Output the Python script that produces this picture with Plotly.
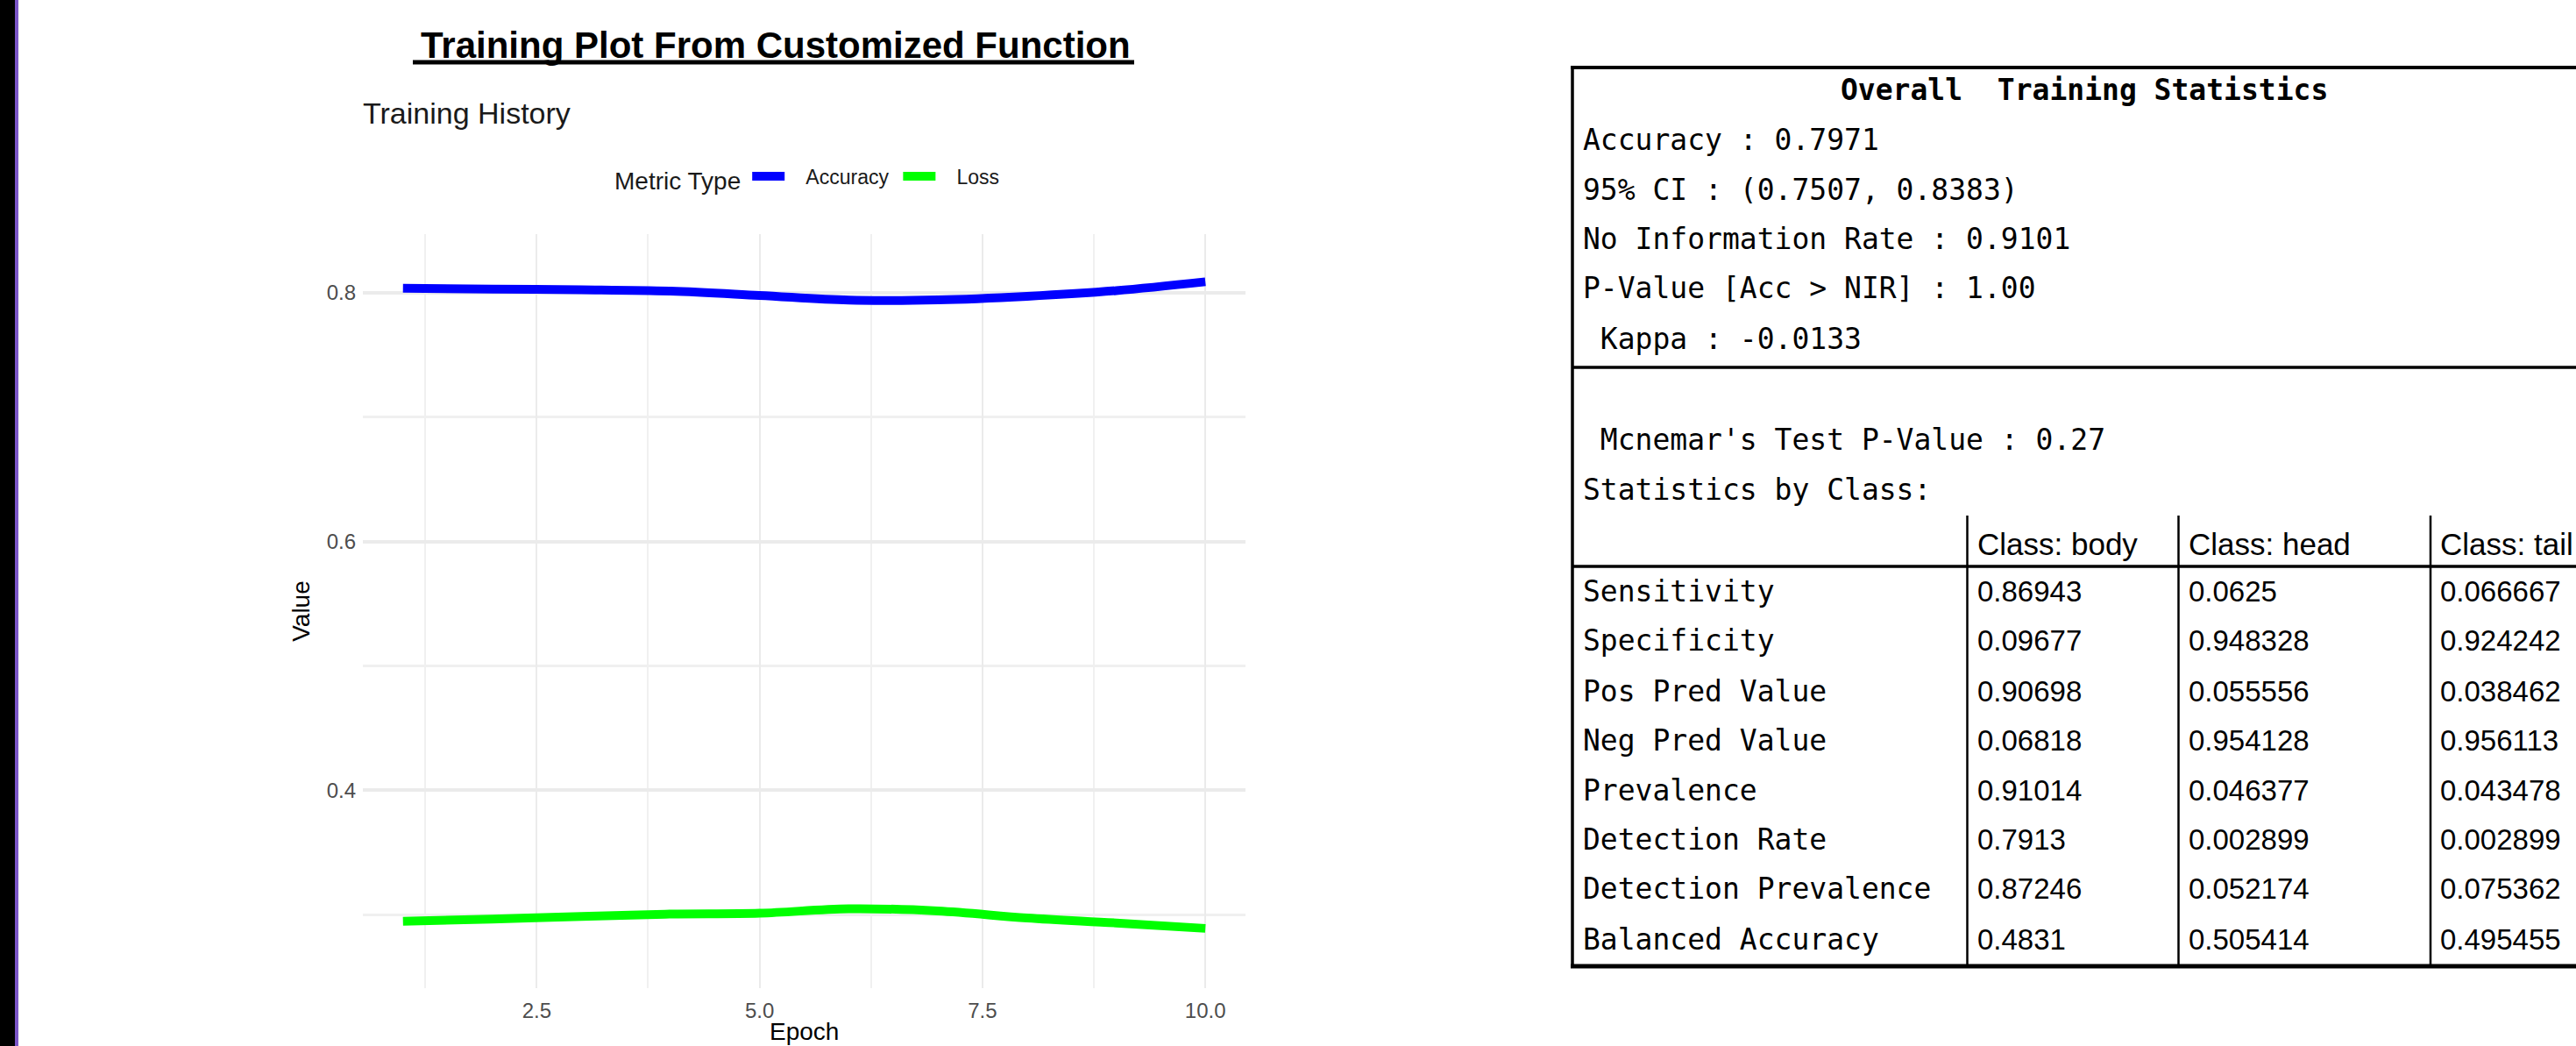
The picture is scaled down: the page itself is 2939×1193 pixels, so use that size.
import plotly.graph_objects as go

# ---------------- data ----------------
epochs = [1, 2, 3, 4, 5, 6, 7, 8, 9, 10]
accuracy = [0.8035, 0.8028, 0.8023, 0.8012, 0.7977, 0.7939, 0.7941, 0.7970, 0.8016, 0.8087]
loss = [0.2948, 0.2965, 0.2986, 0.3005, 0.3012, 0.3048, 0.3030, 0.2974, 0.2934, 0.2890]
series_names = ["Accuracy", "Loss"]
series_colors = ["#0000ff", "#00ff00"]

x_tick_vals = [2.5, 5.0, 7.5, 10.0]
x_tick_text = ["2.5", "5.0", "7.5", "10.0"]
x_minor_vals = [1.25, 3.75, 6.25, 8.75]
y_tick_vals = [0.4, 0.6, 0.8]
y_tick_text = ["0.4", "0.6", "0.8"]
y_minor_vals = [0.3, 0.5, 0.7]

overall_title = "Overall  Training Statistics"
overall_lines = [
    "Accuracy : 0.7971",
    "95% CI : (0.7507, 0.8383)",
    "No Information Rate : 0.9101",
    "P-Value [Acc > NIR] : 1.00",
    " Kappa : -0.0133",
]
mcnemar_line = " Mcnemar's Test P-Value : 0.27"
by_class_line = "Statistics by Class:"
class_headers = ["Class: body", "Class: head", "Class: tail"]
row_labels = ["Sensitivity", "Specificity", "Pos Pred Value", "Neg Pred Value",
              "Prevalence", "Detection Rate", "Detection Prevalence", "Balanced Accuracy"]
body_vals = ["0.86943", "0.09677", "0.90698", "0.06818", "0.91014", "0.7913", "0.87246", "0.4831"]
head_vals = ["0.0625", "0.948328", "0.055556", "0.954128", "0.046377", "0.002899", "0.052174", "0.505414"]
tail_vals = ["0.066667", "0.924242", "0.038462", "0.956113", "0.043478", "0.002899", "0.075362", "0.495455"]

# ---------------- layout geometry (pixels) ----------------
W, H = 2939, 1193
PL, PR, PT, PB = 414, 1421, 267, 1127
ML, MR, MT, MB = PL, W - PR, PT, H - PB
PW, PH = PR - PL, PB - PT


def fx(px):
    return (px - ML) / PW


def fy(py):
    return 1 - (py - MT) / PH


def nb(s):
    return s.replace(" ", "\u00a0")


fig = go.Figure()
for name, vals, col in zip(series_names, [accuracy, loss], series_colors):
    fig.add_trace(go.Scatter(
        x=epochs, y=vals, mode="lines", name="\u00a0\u00a0\u00a0" + name + "\u00a0",
        line=dict(color=col, width=10, shape="spline", smoothing=1.0),
        hoverinfo="skip",
    ))

SANS = "Liberation Sans, Arial, sans-serif"
MONO = "DejaVu Sans Mono, monospace"
NUMF = "Liberation Sans, Arial, sans-serif"

annotations = []
shapes = []

# chart title + subtitle
annotations.append(dict(text="<b>Training Plot From Customized Function</b>", x=fx(885), y=fy(51),
                        xref="paper", yref="paper", xanchor="center", yanchor="middle", showarrow=False,
                        font=dict(family=SANS, size=42, color="black")))
shapes.append(dict(type="line", xref="paper", yref="paper", x0=fx(471), x1=fx(1294), y0=fy(71), y1=fy(71),
                   line=dict(color="black", width=5)))
annotations.append(dict(text="Training History", x=fx(412), y=fy(129), xref="paper", yref="paper",
                        xanchor="left", yanchor="middle", showarrow=False,
                        font=dict(family=SANS, size=34, color="#1a1a1a")))
# x-axis title
annotations.append(dict(text="Epoch", x=0.5, y=fy(1193), xref="paper", yref="paper",
                        xanchor="center", yanchor="bottom", showarrow=False, borderpad=0,
                        font=dict(family=SANS, size=28, color="black")))

# left dark edge
shapes.append(dict(type="rect", xref="paper", yref="paper", x0=fx(0), x1=fx(17), y0=fy(H), y1=fy(0),
                   fillcolor="black", line=dict(width=0), layer="above"))
shapes.append(dict(type="rect", xref="paper", yref="paper", x0=fx(17), x1=fx(21), y0=fy(H), y1=fy(0),
                   fillcolor="#7b55c7", line=dict(width=0), layer="above"))

# ---------------- table ----------------
TL, TR = 1794, W + 5
T_TOP, T_MID, T_HEAD_LINE, T_BOT = 77, 419, 646, 1102
COL_X = [2244.5, 2485.5, 2773]
HEAD_TOP = 588


def hline(y, x0, x1, w):
    shapes.append(dict(type="line", xref="paper", yref="paper", x0=fx(x0), x1=fx(x1), y0=fy(y), y1=fy(y),
                       line=dict(color="black", width=w)))


def vline(x, y0, y1, w):
    shapes.append(dict(type="line", xref="paper", yref="paper", x0=fx(x), x1=fx(x), y0=fy(y0), y1=fy(y1),
                       line=dict(color="black", width=w)))


hline(T_TOP, TL - 2, TR, 4)
hline(T_MID, TL, TR, 3.5)
hline(T_HEAD_LINE, TL, TR, 3.5)
hline(T_BOT, TL - 2, TR, 5)
vline(TL, T_TOP - 2, T_BOT + 2, 3.5)
for cx in COL_X:
    vline(cx, HEAD_TOP, T_BOT, 2.5)


def text(s, x, y, fam, size, bold=False):
    t = nb(s)
    if bold:
        t = "<b>" + t + "</b>"
    annotations.append(dict(text=t, x=fx(x), y=fy(y), xref="paper", yref="paper", xanchor="left",
                            yanchor="middle", showarrow=False, font=dict(family=fam, size=size, color="black")))


LX = 1804
text(overall_title, 2098, 102, MONO, 33, bold=True)
overall_y = [159, 216, 272, 329, 386]
for s, y in zip(overall_lines, overall_y):
    text(s, LX, y, MONO, 33)
text(mcnemar_line, LX, 501, MONO, 33)
text(by_class_line, LX, 558, MONO, 33)
for h, cx in zip(class_headers, COL_X):
    text(h, cx + 9, 620, NUMF, 35)
row_y = [674, 730, 788, 844, 901, 957, 1013, 1071]
for lab, b, hd, tl, y in zip(row_labels, body_vals, head_vals, tail_vals, row_y):
    text(lab, LX, y, MONO, 33)
    for v, cx in zip([b, hd, tl], COL_X):
        text(v, cx + 9, y, NUMF, 33)

fig.update_layout(
    width=W, height=H,
    margin=dict(l=ML, r=MR, t=MT, b=MB, pad=0),
    paper_bgcolor="white", plot_bgcolor="white",
    font=dict(family=SANS, color="#1a1a1a"),
    showlegend=True,
    legend=dict(
        orientation="h", x=fx(699), xanchor="left", y=fy(203), yanchor="middle",
        title=dict(text="Metric Type", side="left", font=dict(family=SANS, size=28, color="#1a1a1a")),
        font=dict(family=SANS, size=23, color="#1a1a1a"),
        itemwidth=37, bgcolor="rgba(0,0,0,0)", borderwidth=0,
    ),
    xaxis=dict(
        range=[0.55, 10.45], tickmode="array", tickvals=x_tick_vals, ticktext=x_tick_text,
        showgrid=True, gridcolor="#ebebeb", gridwidth=2, zeroline=False, showline=False,
        ticks="", ticklabelstandoff=9, automargin=False,
        tickfont=dict(family=SANS, size=24, color="#4d4d4d"),
        minor=dict(tickvals=x_minor_vals, showgrid=True, gridcolor="#f0f0f0", gridwidth=2),
    ),
    yaxis=dict(
        range=[0.241, 0.847], tickmode="array", tickvals=y_tick_vals, ticktext=y_tick_text,
        showgrid=True, gridcolor="#ebebeb", gridwidth=4, zeroline=False, showline=False,
        ticks="", ticklabelstandoff=7, automargin=False,
        tickfont=dict(family=SANS, size=24, color="#4d4d4d"),
        minor=dict(tickvals=y_minor_vals, showgrid=True, gridcolor="#f0f0f0", gridwidth=3),
        title=dict(text="Value", font=dict(family=SANS, size=28, color="black"), standoff=10),
    ),
    annotations=annotations,
    shapes=shapes,
)

post = (
    "document.body.style.margin='0';"
    "document.body.style.overflow='hidden';"
    "var bar=document.createElement('div');"
    "bar.style.cssText='position:fixed;left:0;top:0;width:17px;height:100vh;"
    "background:#000;border-right:4px solid #7b55c7;z-index:1000;';"
    "document.body.appendChild(bar);"
)

fig.write_html("out.html", config={"displayModeBar": False}, post_script=post)
